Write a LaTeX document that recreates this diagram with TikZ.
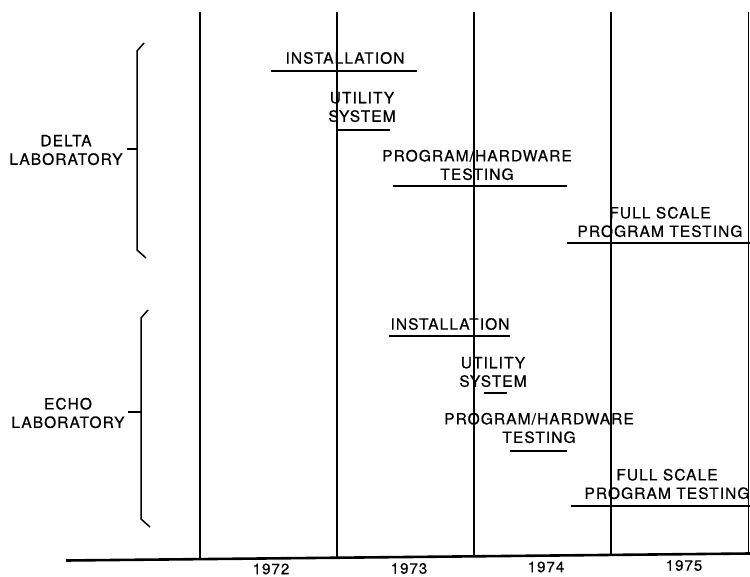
\documentclass[tikz,border=0pt]{standalone}
\usepackage{fontspec}
\setmainfont{TeX Gyre Heros}[LetterSpace=7.0,FakeBold=0.6]
\begin{document}
\begin{tikzpicture}[x=1pt,y=-1pt,
  lbl/.style={align=center,inner sep=0pt,font=\fontsize{15.5}{18.5}\selectfont},
  yr/.style={inner sep=0pt,font=\fontsize{15}{17}\selectfont},
  grid/.style={line width=1.5pt},
  bar/.style={line width=2.6pt},
  brace/.style={line width=1.5pt},
  axis/.style={line width=2.6pt}]
\useasboundingbox (0,0) rectangle (750,577);
% axis
\coordinate (a0) at (66,560.5);
\coordinate (a5) at (750,553.5);
\draw[axis] (a0) -- (a5);
% verticals
\foreach \n/\x/\yb in {v1/200/558.5, v2/337/557, v3/474/555.6, v4/611/554.2, v5/748.5/553.6}{
  \coordinate (\n t) at (\x,12);
  \coordinate (\n b) at (\x,\yb);
  \draw[grid] (\n t) -- (\n b);
}
% years
\node[yr] (y72) at (271,569) {1972};
\node[yr] (y73) at (409,568.5) {1973};
\node[yr] (y74) at (546,567) {1974};
\node[yr] (y75) at (684,565.5) {1975};
% braces
\coordinate (d1) at (144,43); \coordinate (d2) at (137,51);
\coordinate (d3) at (137,250); \coordinate (d4) at (146,258);
\coordinate (dm) at (137,149); \coordinate (dt) at (127,149);
\draw[brace] (d1) -- (d2) -- (d3) -- (d4);
\draw[brace] (dm) -- (dt);
\node[lbl] (delta) at (66,150) {DELTA\\LABORATORY};
\coordinate (e1) at (148,310); \coordinate (e2) at (141,318);
\coordinate (e3) at (141,519); \coordinate (e4) at (150,527);
\coordinate (em) at (141,412); \coordinate (et) at (128,412);
\draw[brace] (e1) -- (e2) -- (e3) -- (e4);
\draw[brace] (em) -- (et);
\node[lbl] (echo) at (68,413) {ECHO\\LABORATORY};
% Delta tasks
\node[lbl] (dinst) at (345,58) {INSTALLATION};
\coordinate (dinsta) at (271,71); \coordinate (dinstb) at (417,71);
\draw[bar] (dinsta) -- (dinstb);
\node[lbl] (dutil) at (362,107) {UTILITY\\SYSTEM};
\coordinate (dutila) at (337,130); \coordinate (dutilb) at (390,130);
\draw[bar] (dutila) -- (dutilb);
\node[lbl] (dprog) at (477,165) {PROGRAM/HARDWARE\\TESTING};
\coordinate (dproga) at (393,186); \coordinate (dprogb) at (567,186);
\draw[bar] (dproga) -- (dprogb);
\node[lbl] (dfull) at (660,222) {FULL SCALE\\PROGRAM TESTING};
\coordinate (dfulla) at (567,243); \coordinate (dfullb) at (750,243);
\draw[bar] (dfulla) -- (dfullb);
% Echo tasks
\node[lbl] (einst) at (450,324) {INSTALLATION};
\coordinate (einsta) at (389,336); \coordinate (einstb) at (510,336);
\draw[bar] (einsta) -- (einstb);
\node[lbl] (eutil) at (493,372) {UTILITY\\SYSTEM};
\coordinate (eutila) at (484,393); \coordinate (eutilb) at (507,393);
\draw[bar] (eutila) -- (eutilb);
\node[lbl] (eprog) at (539,428) {PROGRAM/HARDWARE\\TESTING};
\coordinate (eproga) at (510,451); \coordinate (eprogb) at (567,451);
\draw[bar] (eproga) -- (eprogb);
\node[lbl] (efull) at (667,484) {FULL SCALE\\PROGRAM TESTING};
\coordinate (efulla) at (571,506); \coordinate (efullb) at (750,506);
\draw[bar] (efulla) -- (efullb);
\end{tikzpicture}
\end{document}
